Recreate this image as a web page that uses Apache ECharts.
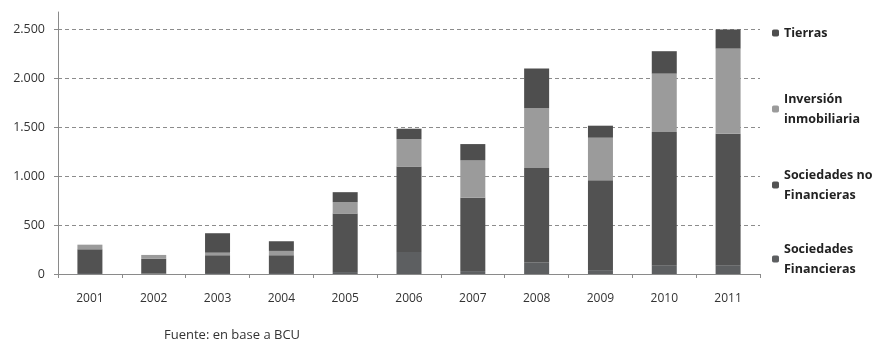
<!DOCTYPE html>
<html>
<head>
<meta charset="utf-8">
<style>
  html, body { margin: 0; padding: 0; background: #ffffff; }
  #chart { width: 880px; height: 345px; }
</style>
<script src="https://cdn.jsdelivr.net/npm/echarts@6/dist/echarts.min.js"></script>
</head>
<body>
<div id="chart"></div>
<script>
// Years on the horizontal axis
const years = ['2001', '2002', '2003', '2004', '2005', '2006', '2007', '2008', '2009', '2010', '2011'];

// Stacked components (bottom to top)
const sociedadesFinancieras   = [10, 5, 10, 10, 20, 225, 30, 120, 40, 90, 90];
const sociedadesNoFinancieras = [243, 150, 182, 182, 598, 875, 749, 963, 920, 1362, 1345];
const inversionInmobiliaria   = [47, 40, 26, 44, 117, 280, 386, 612, 434, 598, 871];
const tierras                 = [0, 0, 199, 99, 102, 106, 164, 406, 123, 229, 195];

// Series names as shown in the legend
const seriesNames = ['Sociedades\nFinancieras', 'Sociedades no\nFinancieras', 'Inversión\ninmobiliaria', 'Tierras'];
const seriesData = [sociedadesFinancieras, sociedadesNoFinancieras, inversionInmobiliaria, tierras];
const seriesColors = ['#5d5f61', '#525252', '#9b9b9b', '#4e4e4e'];

const FONT = '"Open Sans", "Liberation Sans", sans-serif';

function fmtThousands(v) {
  return String(v).replace(/\B(?=(\d{3})+(?!\d))/g, '.');
}

const chart = echarts.init(document.getElementById('chart'), null, { renderer: 'canvas' });

const series = seriesData.map((d, i) => ({
  name: seriesNames[i],
  type: 'bar',
  stack: 'total',
  barWidth: 25,
  data: d,
  itemStyle: { color: seriesColors[i] },
  emphasis: { disabled: true }
}));

// One legend block per series so each marker sits beside the first text line
function legendBlock(name, top, twoLines) {
  return {
    data: [name],
    orient: 'vertical',
    left: 772,
    top: top,
    padding: 0,
    itemWidth: 7,
    itemHeight: 7,
    selectedMode: false,
    textStyle: {
      fontFamily: FONT,
      fontWeight: 'bold',
      fontSize: 12.5,
      color: '#222222',
      lineHeight: 20,
      padding: twoLines ? [20, 0, 0, 0] : 0
    }
  };
}

chart.setOption({
  animation: false,
  backgroundColor: '#ffffff',
  grid: { left: 58, right: 120, top: 12, bottom: 71, containLabel: false },
  legend: [
    legendBlock(seriesNames[3], 23, false),
    legendBlock(seriesNames[2], 79, true),
    legendBlock(seriesNames[1], 155, true),
    legendBlock(seriesNames[0], 229, true)
  ],
  xAxis: {
    type: 'category',
    data: years,
    boundaryGap: true,
    axisLine: { lineStyle: { color: '#8a8a8a', width: 1 } },
    axisTick: { show: true, length: 4, alignWithLabel: false, lineStyle: { color: '#8a8a8a' } },
    axisLabel: { fontFamily: FONT, fontSize: 12, color: '#333333', margin: 19 }
  },
  yAxis: {
    type: 'value',
    min: 0,
    max: 2680,
    interval: 500,
    axisLine: { show: true, lineStyle: { color: '#8a8a8a', width: 1 } },
    axisTick: { show: true, length: 4, lineStyle: { color: '#8a8a8a' } },
    axisLabel: {
      fontFamily: FONT, fontSize: 12.5, color: '#333333', margin: 13,
      showMaxLabel: false,
      formatter: v => fmtThousands(v)
    },
    splitLine: {
      show: true,
      showMaxLine: false,
      lineStyle: { color: '#8c8c8c', type: [4, 3], width: 1 }
    }
  },
  graphic: [
    {
      type: 'text',
      left: 164,
      top: 329,
      style: {
        text: 'Fuente: en base a BCU',
        font: '13px ' + FONT,
        fill: '#333333'
      }
    }
  ],
  series: series
});
</script>
</body>
</html>
